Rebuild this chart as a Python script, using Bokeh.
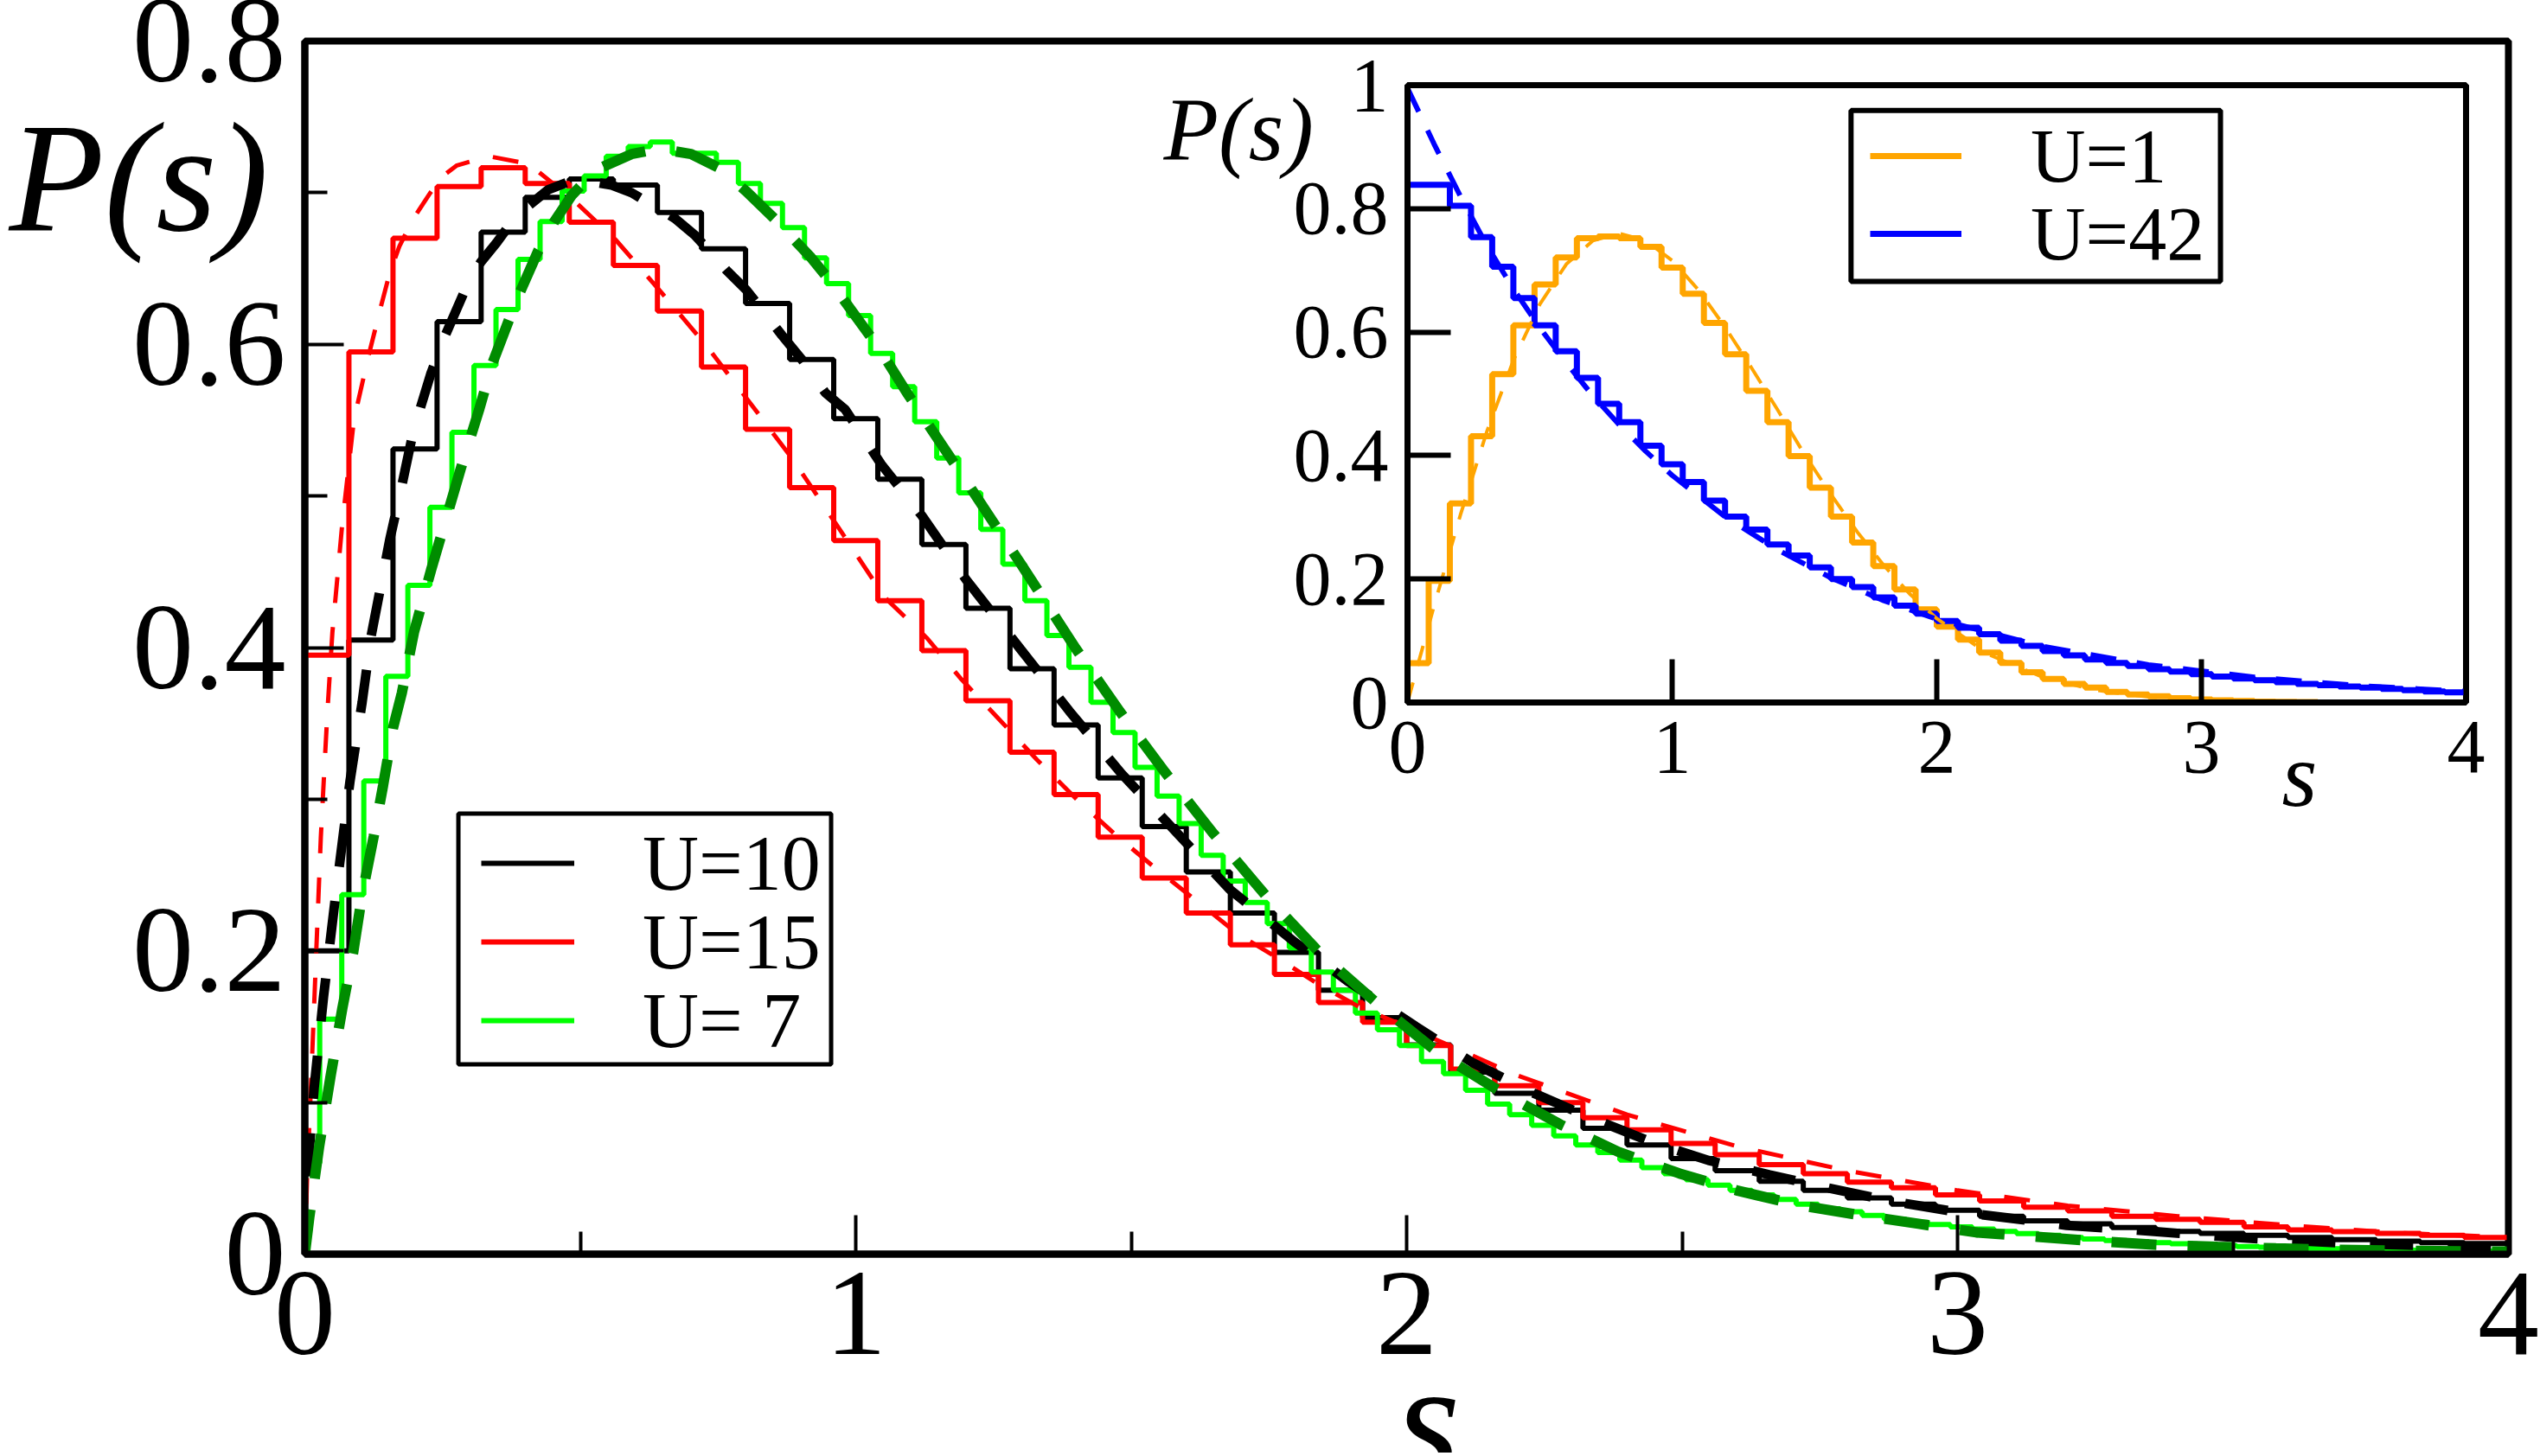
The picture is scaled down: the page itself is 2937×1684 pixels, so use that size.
import numpy as np
from bokeh.plotting import figure
from bokeh.layouts import column
from bokeh.models import FixedTicker, Label, Range1d, Legend, LegendItem, BoxAnnotation
from bokeh.core.properties import value
from bokeh.embed import file_html
from bokeh.resources import INLINE

# ---------------- main panel data ----------------
bin08 = [round(0.08 * k, 2) for k in range(51)]          # bin edges for U=10, U=15
green_edges = [0.0] + [round(0.027 + 0.04 * k, 3) for k in range(100)] + [4.0]

hist_u10 = [0.200, 0.405, 0.531, 0.615, 0.674, 0.697, 0.709, 0.705, 0.687, 0.663,
            0.627, 0.590, 0.551, 0.511, 0.468, 0.426, 0.386, 0.349, 0.314, 0.282,
            0.252, 0.225, 0.199, 0.174, 0.156, 0.138, 0.120, 0.106, 0.095, 0.083,
            0.072, 0.063, 0.055, 0.048, 0.042, 0.037, 0.033, 0.029, 0.025, 0.022,
            0.020, 0.0175, 0.015, 0.0137, 0.0124, 0.011, 0.0095, 0.0086, 0.0076, 0.007]

hist_u15 = [0.395, 0.595, 0.670, 0.704, 0.7165, 0.706, 0.6805, 0.652, 0.622, 0.585,
            0.544, 0.5055, 0.4706, 0.431, 0.398, 0.365, 0.331, 0.303, 0.275, 0.248,
            0.225, 0.204, 0.1845, 0.166, 0.153, 0.1375, 0.122, 0.111, 0.100, 0.090,
            0.082, 0.073, 0.0656, 0.059, 0.053, 0.0475, 0.0437, 0.039, 0.035, 0.031,
            0.0285, 0.025, 0.023, 0.021, 0.018, 0.016, 0.0148, 0.0137, 0.0124, 0.011]

hist_u7 = [0.060,
           0.155, 0.237, 0.312, 0.381, 0.441, 0.4925, 0.542, 0.586, 0.623, 0.656,
           0.681, 0.701, 0.711, 0.724, 0.7305, 0.7334, 0.726, 0.726, 0.720, 0.706,
           0.693, 0.677, 0.657, 0.640, 0.619, 0.594, 0.572, 0.549, 0.525, 0.502,
           0.478, 0.455, 0.431, 0.408, 0.387, 0.364, 0.344, 0.321, 0.302, 0.284,
           0.263, 0.246, 0.232, 0.218, 0.202, 0.186, 0.174, 0.159, 0.148, 0.1375,
           0.127, 0.119, 0.108, 0.099, 0.092, 0.085, 0.078, 0.072, 0.067, 0.062,
           0.057, 0.053, 0.049, 0.0455, 0.042, 0.039, 0.036, 0.033, 0.030, 0.028,
           0.0255, 0.023, 0.021, 0.0195, 0.018, 0.0165, 0.015, 0.0135, 0.0124, 0.011,
           0.010, 0.009, 0.0082, 0.0075, 0.0068, 0.0062, 0.0056, 0.005, 0.0046, 0.0042,
           0.0038, 0.0035, 0.0032, 0.003, 0.0028, 0.0026, 0.0024, 0.0022, 0.002, 0.002]

fit_u15_s = [0, 0.004, 0.011, 0.020, 0.029, 0.035, 0.041, 0.050, 0.068, 0.089, 0.114,
             0.136, 0.154, 0.172, 0.197, 0.226, 0.247, 0.276, 0.334, 0.406, 0.485,
             0.564, 0.650, 0.729, 0.809, 0.888, 0.967, 1.053, 1.130, 1.192, 1.257,
             1.329, 1.401, 1.473, 1.549, 1.622, 1.694, 1.767, 1.840, 1.914, 2.0, 2.2,
             2.4, 2.6, 2.8, 3.0, 3.2, 3.4, 3.6, 3.8, 4.0]
fit_u15_p = [0, 0.05, 0.11, 0.193, 0.275, 0.317, 0.358, 0.410, 0.482, 0.550, 0.590,
             0.622, 0.647, 0.665, 0.683, 0.699, 0.710, 0.718, 0.724, 0.719, 0.696,
             0.669, 0.633, 0.599, 0.561, 0.523, 0.480, 0.433, 0.406, 0.379, 0.354,
             0.326, 0.300, 0.276, 0.253, 0.232, 0.211, 0.195, 0.178, 0.163, 0.150, 0.118,
             0.092, 0.071, 0.055, 0.042, 0.032, 0.025, 0.019, 0.014, 0.011]

fit_u10_s = [0, 0.008, 0.017, 0.034, 0.056, 0.082, 0.104, 0.120, 0.154, 0.175, 0.197,
             0.229, 0.255, 0.291, 0.319, 0.348, 0.384, 0.442, 0.492, 0.557, 0.593,
             0.672, 0.708, 0.765, 0.801, 0.866, 0.902, 0.945, 0.981, 1.046, 1.12, 1.2,
             1.299, 1.388, 1.482, 1.580, 1.679, 1.796, 1.895, 2.017, 2.121, 2.229,
             2.338, 2.443, 2.548, 2.659, 2.765, 2.876, 2.987, 3.093, 3.198, 3.310,
             3.415, 3.526, 3.631, 3.737, 3.843, 3.948, 4.0]
fit_u10_p = [0, 0.068, 0.11, 0.17, 0.237, 0.312, 0.364, 0.407, 0.471, 0.505, 0.543,
             0.581, 0.606, 0.636, 0.654, 0.667, 0.685, 0.702, 0.709, 0.705, 0.700,
             0.683, 0.672, 0.649, 0.636, 0.606, 0.590, 0.568, 0.557, 0.521, 0.487, 0.445,
             0.399, 0.358, 0.317, 0.279, 0.2405, 0.206, 0.1795, 0.150, 0.126, 0.1064,
             0.0893, 0.0741, 0.0618, 0.0523, 0.0437, 0.0352, 0.0285, 0.0238, 0.019, 0.0162,
             0.0133, 0.0105, 0.0086, 0.0067, 0.0057, 0.0048, 0.0045]

fit_u7_s = [0, 0.008, 0.026, 0.047, 0.068, 0.088, 0.104, 0.125, 0.142, 0.160, 0.176,
            0.198, 0.229, 0.258, 0.283, 0.316, 0.341, 0.384, 0.424, 0.452, 0.485,
            0.528, 0.593, 0.643, 0.701, 0.751, 0.801, 0.852, 0.917, 0.953, 1.003,
            1.043, 1.093, 1.2, 1.3, 1.399, 1.479, 1.561, 1.650, 1.743, 1.844, 1.954,
            2.060, 2.171, 2.279, 2.384, 2.495, 2.601, 2.712, 2.823, 2.929, 3.034,
            3.145, 3.250, 3.361, 3.472, 3.578, 3.689, 3.795, 3.912, 4.0]
fit_u7_p = [0, 0.024, 0.071, 0.118, 0.162, 0.1995, 0.237, 0.2755, 0.309, 0.347, 0.370,
            0.410, 0.451, 0.487, 0.518, 0.5565, 0.588, 0.629, 0.662, 0.6805, 0.6985,
            0.715, 0.7255, 0.729, 0.7255, 0.7165, 0.701, 0.683, 0.658, 0.642, 0.617,
            0.597, 0.568, 0.51, 0.455, 0.3996, 0.358, 0.318, 0.277, 0.237, 0.198, 0.163,
            0.132, 0.107, 0.0855, 0.0675, 0.0532, 0.0418, 0.0323, 0.0257, 0.020, 0.0143,
            0.0114, 0.0086, 0.0061, 0.0048, 0.0038, 0.0029, 0.0023, 0.0019, 0.0017]

main_xticks = [0, 1, 2, 3, 4]
main_xminor = [0.5, 1.5, 2.5, 3.5]
main_yticks = [0, 0.2, 0.4, 0.6, 0.8]
main_yminor = [0.1, 0.3, 0.5, 0.7]
main_ylabels = {0: "0", 0.2: "0.2", 0.4: "0.4", 0.6: "0.6", 0.8: "0.8"}

# ---------------- inset data ----------------
hist_u1 = [0.0637, 0.197, 0.3226, 0.4313, 0.532, 0.611, 0.677, 0.721, 0.752, 0.755,
           0.752, 0.738, 0.7045, 0.662, 0.615, 0.564, 0.505, 0.454, 0.399, 0.348,
           0.301, 0.259, 0.221, 0.183, 0.151, 0.123, 0.102, 0.081, 0.064, 0.049,
           0.038, 0.030, 0.024, 0.017, 0.013, 0.010, 0.007, 0.005, 0.0035, 0.0025,
           0.0015, 0.001, 0.0006]
hist_u42 = [0.8385, 0.8385, 0.8046, 0.754, 0.706, 0.655, 0.611, 0.569, 0.526, 0.484,
            0.454, 0.416, 0.386, 0.357, 0.327, 0.301, 0.280, 0.256, 0.238, 0.219,
            0.200, 0.187, 0.170, 0.157, 0.144, 0.132, 0.121, 0.1105, 0.1003, 0.0917,
            0.0833, 0.0765, 0.0697, 0.064, 0.059, 0.054, 0.050, 0.046, 0.042, 0.039,
            0.036, 0.033, 0.030, 0.028, 0.026, 0.024, 0.022, 0.020, 0.018, 0.0165]

fit_u1_s = [0, 0.1, 0.2, 0.3, 0.4, 0.5, 0.6, 0.7, 0.8, 0.9, 1.0, 1.1, 1.2, 1.3, 1.4,
            1.5, 1.6, 1.7, 1.8, 1.9, 2.0, 2.2, 2.4, 2.6, 2.8, 3.0, 3.2, 3.5]
fit_u1_p = [0, 0.156, 0.304, 0.439, 0.554, 0.645, 0.710, 0.748, 0.760, 0.748, 0.716,
            0.668, 0.608, 0.542, 0.473, 0.402, 0.337, 0.276, 0.222, 0.175, 0.136,
            0.077, 0.041, 0.020, 0.009, 0.004, 0.0016, 0.0003]
fit_u42_s = [0, 0.1, 0.2, 0.3, 0.4, 0.5, 0.6, 0.7, 0.8, 0.9, 1.0, 1.2, 1.4, 1.6, 1.8,
             2.0, 2.4, 2.8, 3.2, 3.6, 4.0]
fit_u42_p = [0.995, 0.905, 0.82, 0.74, 0.67, 0.607, 0.55, 0.497, 0.45, 0.407, 0.368,
             0.301, 0.247, 0.202, 0.165, 0.135, 0.091, 0.061, 0.041, 0.027, 0.018]

ins_xticks = [0, 1, 2, 3, 4]
ins_yticks = [0, 0.2, 0.4, 0.6, 0.8, 1]
ins_ylabels = {0: "0", 0.2: "0.2", 0.4: "0.4", 0.6: "0.6", 0.8: "0.8", 1: "1"}

FONT = "Liberation Serif"
W, H = 2937, 1680
BL, BR = 352, 37          # shared left / right borders of every plot in the column
INS_TOP, INS_H = 40, 910  # inset canvas: top edge in the picture, height
INS_LEFT = 1627           # inset frame left edge in the picture


def steps(edges, vals):
    xs = list(edges[:len(vals) + 1])
    ys = list(vals) + [vals[-1]]
    return xs, ys


def style_axes(fig, xt, xm, yt, ym, ylab, lab_size, tin, tmin, tw, aw, standoff):
    fig.xaxis.ticker = FixedTicker(ticks=xt, minor_ticks=xm)
    fig.yaxis.ticker = FixedTicker(ticks=yt, minor_ticks=ym)
    fig.yaxis.major_label_overrides = ylab
    for ax in (fig.xaxis, fig.yaxis):
        ax.major_tick_in = tin
        ax.major_tick_out = 0
        ax.minor_tick_in = tmin
        ax.minor_tick_out = 0
        ax.major_tick_line_width = tw
        ax.minor_tick_line_width = tw
        ax.axis_line_width = aw
        ax.axis_line_color = "black"
        ax.major_label_text_font = FONT
        ax.major_label_text_font_size = lab_size
        ax.major_label_text_color = "black"
        ax.major_label_standoff = standoff
    fig.xgrid.visible = False
    fig.ygrid.visible = False
    fig.outline_line_color = "black"
    fig.outline_line_width = aw
    fig.outline_line_alpha = 1.0


def boxed_legend(fig, entries, box, bw, gw, standoff, size):
    left, right, bottom, top = box
    fig.add_layout(BoxAnnotation(left=left, right=right, bottom=bottom, top=top,
                                 fill_color="white", fill_alpha=1.0,
                                 line_color="black", line_alpha=1.0, line_width=bw))
    for label, rend, loc in entries:
        fig.add_layout(Legend(items=[LegendItem(label=value(label), renderers=[rend])],
                              location=loc, padding=0, margin=0, spacing=0,
                              glyph_width=gw, glyph_height=120, label_height=20,
                              label_standoff=standoff, label_text_font=FONT,
                              label_text_font_size=size, label_text_color="black",
                              border_line_color=None, background_fill_color=None))


# ---------------- main figure ----------------
p = figure(width=W, height=H, output_backend="svg", toolbar_location=None,
           x_range=Range1d(0, 4), y_range=Range1d(0, 0.8),
           min_border_left=BL, min_border_right=BR, min_border_top=47,
           min_border_bottom=H - 47 - 1403)
style_axes(p, main_xticks, main_xminor, main_yticks, main_yminor, main_ylabels,
           "142px", 45, 26, 4, 8, 22)

x, y = steps(bin08, hist_u10)
r10 = p.step(x, y, mode="after", line_color="black", line_width=6)
x, y = steps(bin08, hist_u15)
r15 = p.step(x, y, mode="after", line_color="#ff0000", line_width=6)
x, y = steps(green_edges, hist_u7)
r7 = p.step(x, y, mode="after", line_color="#00ff00", line_width=6)

p.line(fit_u15_s, fit_u15_p, line_color="#ff0000", line_width=5, line_dash="30 28")
p.line(fit_u10_s, fit_u10_p, line_color="black", line_width=11, line_dash="50 40")
p.line(fit_u7_s, fit_u7_p, line_color="#008c00", line_width=12, line_dash="52 36")

boxed_legend(p, [("U=10", r10, (204, 392)), ("U=15", r15, (204, 301)),
                 ("U= 7", r7, (204, 210))],
             (0.2787, 0.9553, 0.1251, 0.2905), 5, 108, 79, "90px")

# ---------------- inset figure ----------------
ins_top_border = 98 - INS_TOP
ins = figure(width=BL + 1224 + BR, height=INS_H, output_backend="svg",
             toolbar_location=None, x_range=Range1d(0, 4), y_range=Range1d(0, 1),
             min_border_left=BL, min_border_right=BR, min_border_top=ins_top_border,
             min_border_bottom=INS_H - ins_top_border - 714)
ins.background_fill_color = None
ins.border_fill_color = None
style_axes(ins, ins_xticks, [], ins_yticks, [], ins_ylabels, "88px", 50, 0, 6, 7, 22)

x, y = steps(bin08, hist_u1)
r1 = ins.step(x, y, mode="after", line_color="#ffa500", line_width=7)
x, y = steps(bin08, hist_u42)
r42 = ins.step(x, y, mode="after", line_color="#0000ff", line_width=7)
ins.line(fit_u1_s, fit_u1_p, line_color="#ffa500", line_width=4, line_dash="24 20")
ins.line(fit_u42_s, fit_u42_p, line_color="#0000ff", line_width=6, line_dash="30 24")

boxed_legend(ins, [("U=1", r1, (535, 572)), ("U=42", r42, (535, 482))],
             (1.676, 3.072, 0.682, 0.959), 6, 106, 80, "88px")


# ---------------- transparent overlays carrying the axis titles ----------------
# one data unit = one pixel of the picture, y downwards
def overlay(width, x0, x1):
    f = figure(width=width, height=H, output_backend="svg", toolbar_location=None,
               x_range=Range1d(x0, x1), y_range=Range1d(H, 0),
               x_axis_location=None, y_axis_location=None,
               min_border_left=BL, min_border_right=BR, min_border_top=0,
               min_border_bottom=0)
    f.background_fill_color = None
    f.border_fill_color = None
    f.outline_line_color = None
    f.xgrid.visible = False
    f.ygrid.visible = False
    return f


txt_left = overlay(BL + 400 + BR, 0, 400)           # shifted left by BL (see margin)
txt_right = overlay(W, BL, W - BR)


def title_label(fig, x, y, text, size):
    fig.add_layout(Label(x=x, y=y, text=text, text_font=FONT, text_font_style="italic",
                         text_font_size=size, text_baseline="alphabetic",
                         text_align="left", text_color="black"))


title_label(txt_left, 10, 205, "P(s)", "180px")       # main y title
title_label(txt_right, 1614, 1641, "s", "190px")      # main x title
title_label(txt_right, 1345, 149, "P(s)", "104px")    # inset y title
title_label(txt_right, 2638, 896, "s", "105px")       # inset x title

ins.margin = (INS_TOP - H, 0, H - INS_TOP - INS_H, INS_LEFT - BL)
txt_left.margin = (-H, 0, 0, -BL)
txt_right.margin = (-H, 0, 0, 0)
layout = column(p, ins, txt_left, txt_right)

open("out.html", "w").write(file_html(layout, INLINE))
